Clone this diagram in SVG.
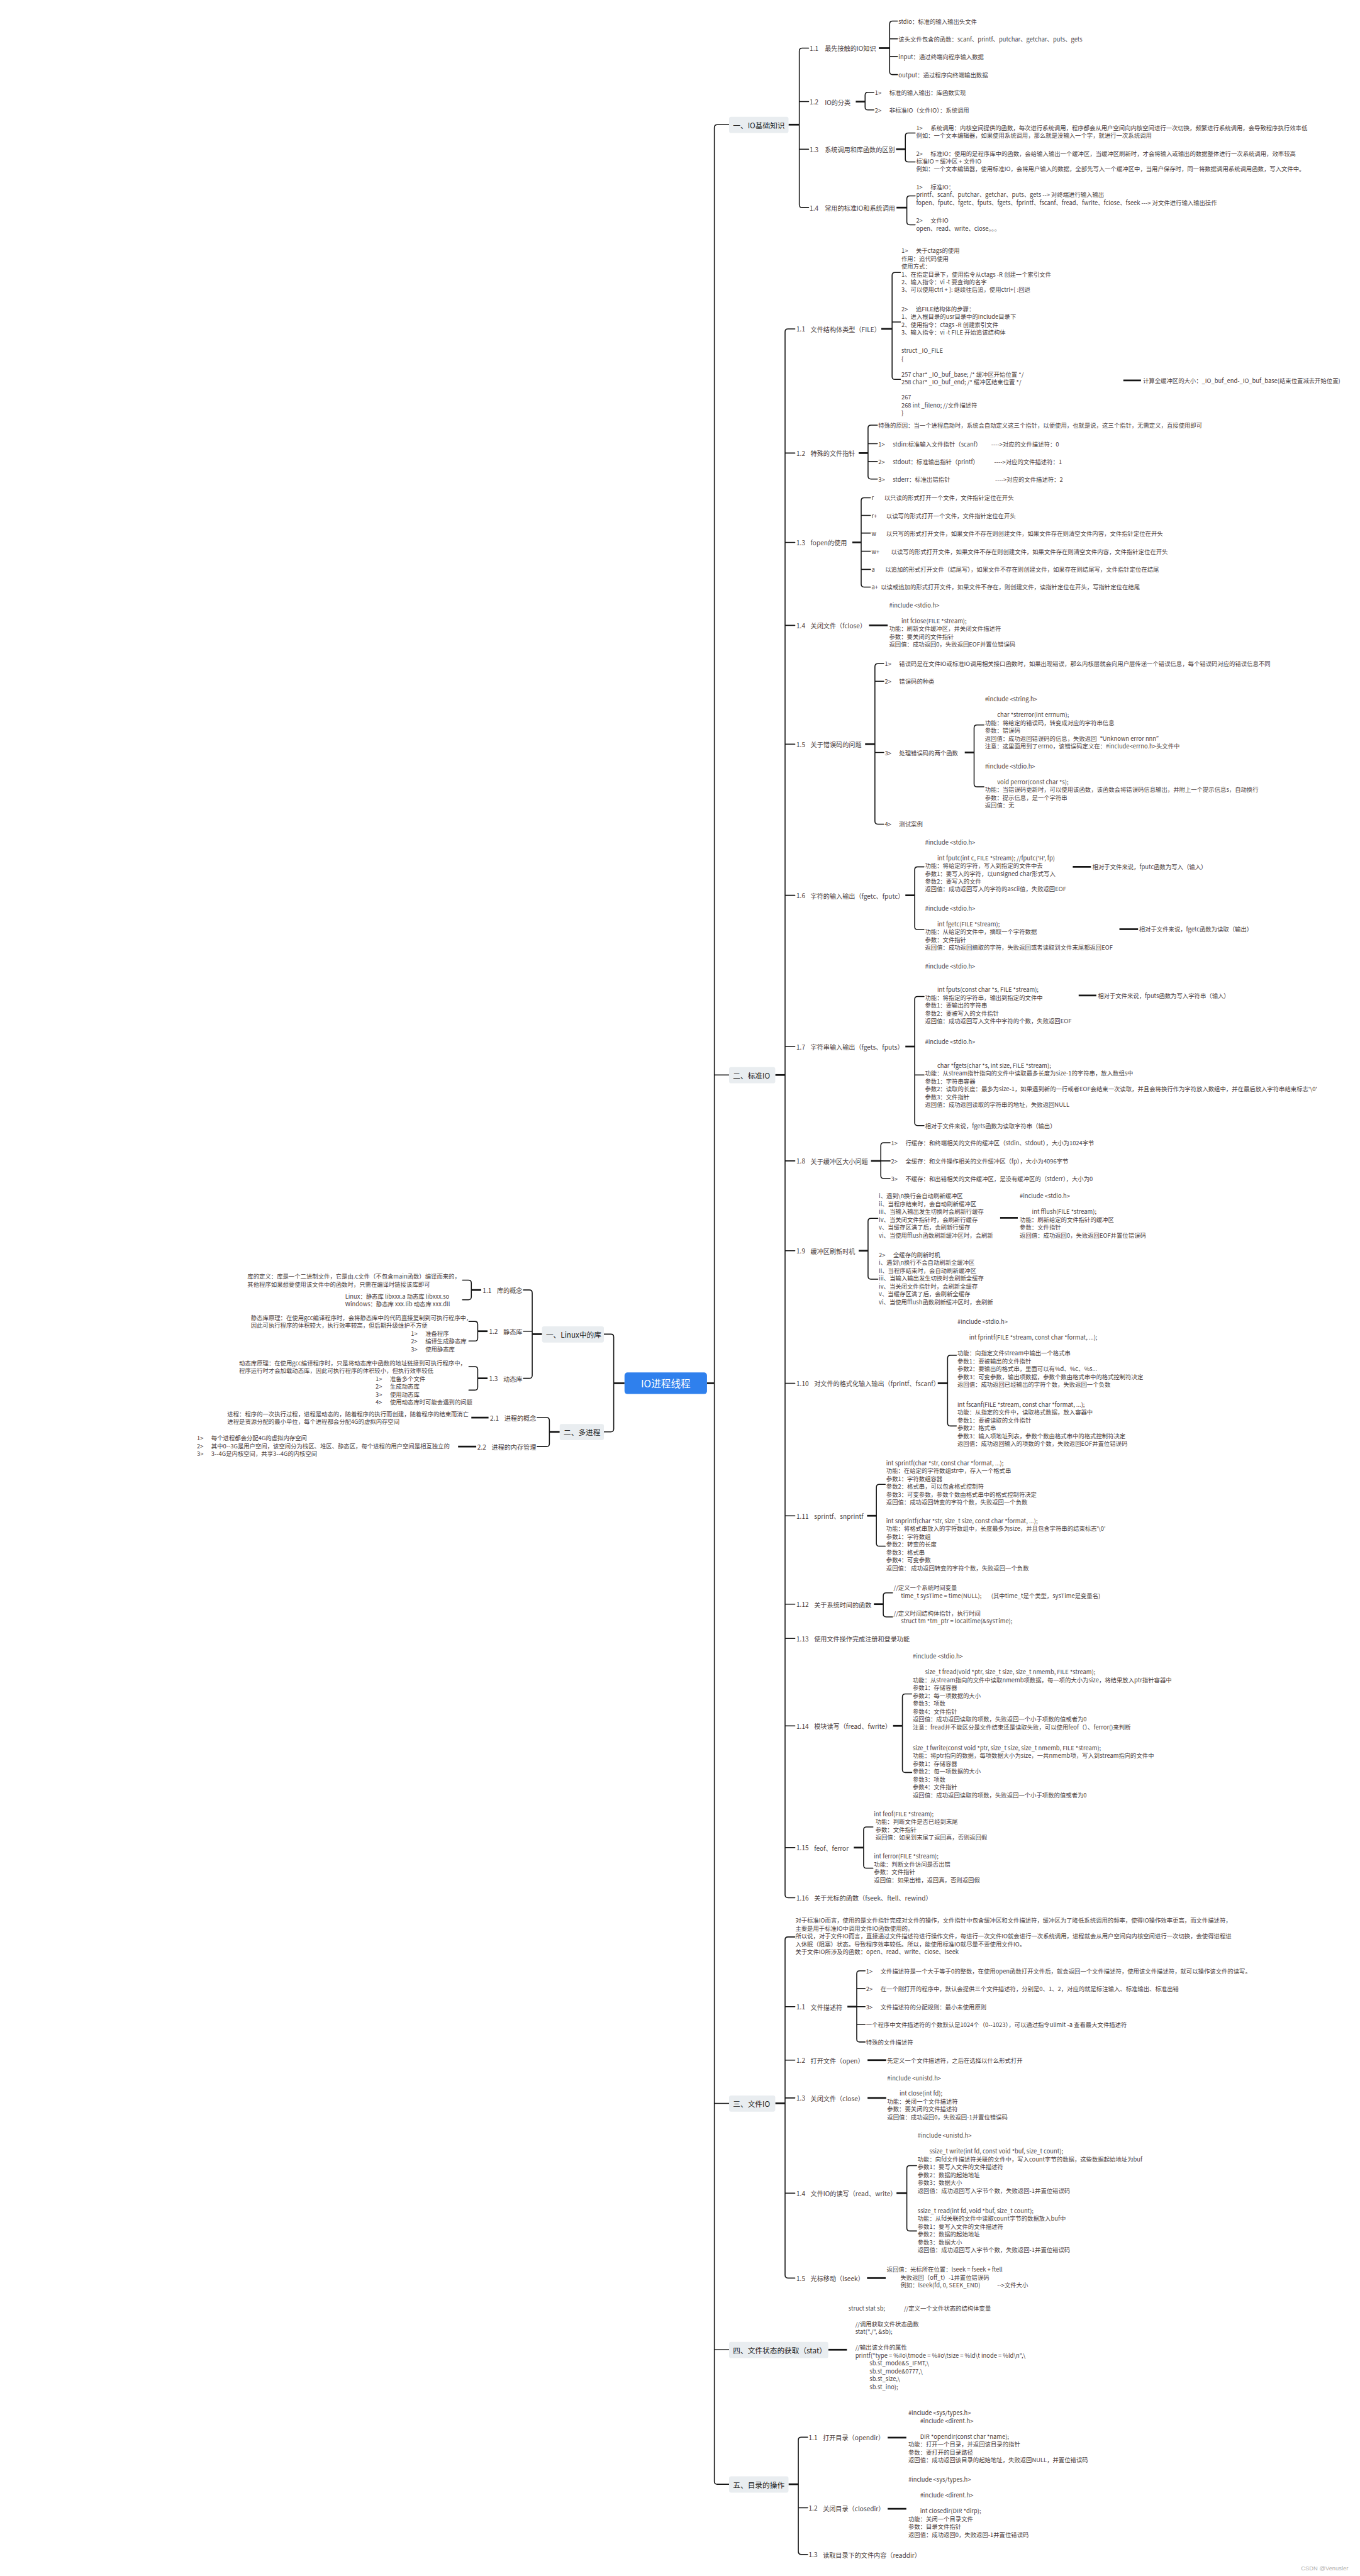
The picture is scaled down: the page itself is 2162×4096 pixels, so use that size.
<svg xmlns="http://www.w3.org/2000/svg" width="2162" height="4096" viewBox="0 0 2162 4096" xml:space="preserve">
<style>
.t{font-family:"Noto Sans CJK SC","Noto Sans",sans-serif;font-size:12px;fill:#4a3d3d;dominant-baseline:central}
.h{font-size:13px}
.b{font-size:15px;fill:#222}
.c{font-size:20px;fill:#fff;text-anchor:middle}
.e{text-anchor:end}
.ln{fill:none;stroke:#151515;stroke-width:2;stroke-linecap:round;stroke-linejoin:round}
.ps{fill:none;stroke:#151515;stroke-width:3.5}
.box{fill:#e9edf0}
.wm{font-family:"Liberation Sans",sans-serif;font-size:12px;fill:#b0b0b0}
</style>
<rect width="2162" height="4096" fill="#ffffff"/>
<g transform="scale(0.7805)">
<g id="connectors">
<path class="ln" d="M1485,254H1461Q1455,254 1455,260V5055Q1455,5061 1461,5061H1485M1455,2190H1487M1455,4285H1487M1455,4787H1485"/>
<path class="ps" d="M1440,2818H1455"/>
<path class="ps" d="M1272,2818H1250"/>
<path class="ln" d="M1230,2718H1244Q1250,2718 1250,2724V2911Q1250,2917 1244,2917H1230"/>
<path class="ps" d="M1104,2718H1084"/>
<path class="ln" d="M1066,2628H1078Q1084,2628 1084,2634V2802Q1084,2808 1078,2808H1066M1084,2712H1066"/>
<path class="ps" d="M980,2628H960"/>
<path class="ln" d="M942,2608H954Q960,2608 960,2614V2642Q960,2648 954,2648H942"/>
<path class="ps" d="M993,2712H973"/>
<path class="ln" d="M955,2692H967Q973,2692 973,2698V2726Q973,2732 967,2732H955"/>
<path class="ps" d="M993,2808H973"/>
<path class="ln" d="M955,2784H967Q973,2784 973,2790V2826Q973,2832 967,2832H955"/>
<path class="ps" d="M1140,2917H1119"/>
<path class="ln" d="M1094,2888H1113Q1119,2888 1119,2894V2941Q1119,2947 1113,2947H1094"/>
<path class="ps" d="M960,2888H995"/>
<path class="ps" d="M933,2947H970"/>
<path class="ps" d="M1606,254H1628"/>
<path class="ln" d="M1647,98H1634Q1628,98 1628,104V417Q1628,423 1634,423H1647M1628,207H1647M1628,304H1647"/>
<path class="ps" d="M1790,98H1812"/>
<path class="ln" d="M1828,43H1818Q1812,43 1812,49V146Q1812,152 1818,152H1828M1812,79H1828M1812,115H1828"/>
<path class="ps" d="M1743,207H1762"/>
<path class="ln" d="M1780,188H1768Q1762,188 1762,194V218Q1762,224 1768,224H1780"/>
<path class="ps" d="M1825,304H1844"/>
<path class="ln" d="M1864,271H1850Q1844,271 1844,277V324Q1844,330 1850,330H1864"/>
<path class="ps" d="M1826,423H1847"/>
<path class="ln" d="M1864,399H1853Q1847,399 1847,405V452Q1847,458 1853,458H1864"/>
<path class="ps" d="M1579,2190H1599"/>
<path class="ln" d="M1619,670H1605Q1599,670 1599,676V3860Q1599,3866 1605,3866H1619M1599,923H1619M1599,1105H1619M1599,1274H1619M1599,1516H1619M1599,1824H1619M1599,2132H1619M1599,2365H1619M1599,2548H1619M1599,2818H1619M1599,3088H1619M1599,3268H1619M1599,3338H1619M1599,3516H1619M1599,3764H1619"/>
<path class="ps" d="M1795,670H1817"/>
<path class="ln" d="M1834,555H1823Q1817,555 1817,561V767Q1817,773 1823,773H1834M1817,656H1834"/>
<path class="ps" d="M2288,775H2324"/>
<path class="ps" d="M1749,923H1768"/>
<path class="ln" d="M1787,866H1774Q1768,866 1768,872V970Q1768,976 1774,976H1787M1768,904H1787M1768,940H1787"/>
<path class="ps" d="M1736,1105H1754"/>
<path class="ln" d="M1773,1014H1760Q1754,1014 1754,1020V1190Q1754,1196 1760,1196H1773M1754,1050H1773M1754,1086H1773M1754,1123H1773M1754,1160H1773"/>
<path class="ps" d="M1770,1274H1808"/>
<path class="ps" d="M1762,1516H1782"/>
<path class="ln" d="M1800,1352H1788Q1782,1352 1782,1358V1673Q1782,1679 1788,1679H1800M1782,1388H1800M1782,1533H1800"/>
<path class="ps" d="M1965,1533H1984"/>
<path class="ln" d="M2004,1477H1990Q1984,1477 1984,1483V1597Q1984,1603 1990,1603H2004"/>
<path class="ps" d="M1844,1824H1863"/>
<path class="ln" d="M1882,1766H1869Q1863,1766 1863,1772V1888Q1863,1894 1869,1894H1882"/>
<path class="ps" d="M2185,1766H2222"/>
<path class="ps" d="M2280,1893H2318"/>
<path class="ps" d="M1844,2132H1863"/>
<path class="ln" d="M1882,2030H1869Q1863,2030 1863,2036V2287Q1863,2293 1869,2293H1882M1863,2190H1882"/>
<path class="ps" d="M2197,2028H2233"/>
<path class="ps" d="M1774,2365H1794"/>
<path class="ln" d="M1813,2328H1800Q1794,2328 1794,2334V2395Q1794,2401 1800,2401H1813M1794,2365H1813"/>
<path class="ps" d="M1749,2548H1768"/>
<path class="ln" d="M1788,2482H1774Q1768,2482 1768,2488V2600Q1768,2606 1774,2606H1788"/>
<path class="ps" d="M2037,2481H2073"/>
<path class="ps" d="M1910,2818H1930"/>
<path class="ln" d="M1948,2761H1936Q1930,2761 1930,2767V2899Q1930,2905 1936,2905H1948"/>
<path class="ps" d="M1766,3088H1785"/>
<path class="ln" d="M1803,3024H1791Q1785,3024 1785,3030V3144Q1785,3150 1791,3150H1803"/>
<path class="ps" d="M1780,3268H1799"/>
<path class="ln" d="M1818,3245H1805Q1799,3245 1799,3251V3288Q1799,3294 1805,3294H1818"/>
<path class="ps" d="M1819,3516H1838"/>
<path class="ln" d="M1857,3451H1844Q1838,3451 1838,3457V3605Q1838,3611 1844,3611H1857"/>
<path class="ps" d="M1739,3764H1759"/>
<path class="ln" d="M1778,3722H1765Q1759,3722 1759,3728V3800Q1759,3806 1765,3806H1778"/>
<path class="ps" d="M1579,4285H1599"/>
<path class="ln" d="M1619,3946H1605Q1599,3946 1599,3952V4635Q1599,4641 1605,4641H1619M1599,4088H1619M1599,4197H1619M1599,4274H1619M1599,4468H1619"/>
<path class="ps" d="M1726,4088H1745"/>
<path class="ln" d="M1762,4015H1751Q1745,4015 1745,4021V4154Q1745,4160 1751,4160H1762M1745,4051H1762M1745,4088H1762M1745,4124H1762"/>
<path class="ps" d="M1767,4197H1805"/>
<path class="ps" d="M1767,4274H1805"/>
<path class="ps" d="M1826,4468H1847"/>
<path class="ln" d="M1867,4412H1853Q1847,4412 1847,4418V4539Q1847,4545 1853,4545H1867"/>
<path class="ps" d="M1766,4641H1804"/>
<path class="ps" d="M1687,4787H1725"/>
<path class="ps" d="M1606,5061H1626"/>
<path class="ln" d="M1645,4965H1632Q1626,4965 1626,4971V5198Q1626,5204 1632,5204H1645M1626,5109H1645"/>
<path class="ps" d="M1808,4966H1846"/>
<path class="ps" d="M1808,5111H1846"/>
</g>

<g id="center"><rect x="1272" y="2796" width="168" height="44" rx="6" fill="#2f80ed"/><text class="t c" x="1356" y="2818">IO进程线程</text></g>

<g id="L1"><rect class="box" x="1104" y="2702" width="126" height="33" rx="4"/><text class="t b" x="1112" y="2718">一、Linux中的库</text>
<text class="t h e" x="1064" y="2628">1.1<tspan dx="11">库的概念</tspan></text>
<text class="t" x="504" y="2600">库的定义：库是一个二进制文件，它是由.c文件（不包含main函数）编译而来的，<tspan x="504" dy="16">其他程序如果想要使用该文件中的函数时，只需在编译时链接该库即可</tspan></text>
<text class="t" x="703" y="2640">Linux：静态库 libxxx.a    动态库 libxxx.so<tspan x="703" dy="16">Windows：静态库 xxx.lib    动态库 xxx.dll</tspan></text>
<text class="t h e" x="1064" y="2712">1.2<tspan dx="11">静态库</tspan></text>
<text class="t" x="511" y="2684">静态库原理：在使用gcc编译程序时，会将静态库中的代码直接复制到可执行程序中，<tspan x="511" dy="16">因此可执行程序的体积较大，执行效率较高，但后期升级维护不方便</tspan></text>
<text class="t" x="837" y="2716">1&gt;<tspan dx="16">准备程序</tspan><tspan x="837" dy="16">2&gt;</tspan><tspan dx="16">编译生成静态库</tspan><tspan x="837" dy="16">3&gt;</tspan><tspan dx="16">使用静态库</tspan></text>
<text class="t h e" x="1064" y="2808">1.3<tspan dx="11">动态库</tspan></text>
<text class="t" x="487" y="2776">动态库原理：在使用gcc编译程序时，只是将动态库中函数的地址链接到可执行程序中，<tspan x="487" dy="16">程序运行时才会加载动态库，因此可执行程序的体积较小，但执行效率较低</tspan></text>
<text class="t" x="765" y="2808">1&gt;<tspan dx="16">准备多个文件</tspan><tspan x="765" dy="16">2&gt;</tspan><tspan dx="16">生成动态库</tspan><tspan x="765" dy="16">3&gt;</tspan><tspan dx="16">使用动态库</tspan><tspan x="765" dy="16">4&gt;</tspan><tspan dx="16">使用动态库时可能会遇到的问题</tspan></text></g>

<g id="L2"><rect class="box" x="1140" y="2901" width="90" height="33" rx="4"/><text class="t b" x="1148" y="2917">二、多进程</text>
<text class="t h e" x="1092" y="2888">2.1<tspan dx="11">进程的概念</tspan></text>
<text class="t" x="463" y="2880">进程：程序的一次执行过程，进程是动态的，随着程序的执行而创建，随着程序的结束而消亡<tspan x="463" dy="16">进程是资源分配的最小单位，每个进程都会分配4G的虚拟内存空间</tspan></text>
<text class="t h e" x="1092" y="2947">2.2<tspan dx="11">进程的内存管理</tspan></text>
<text class="t" x="401" y="2929">1&gt;<tspan dx="16">每个进程都会分配4G的虚拟内存空间</tspan></text>
<text class="t" x="401" y="2945">2&gt;<tspan dx="16">其中0--3G是用户空间，该空间分为栈区、堆区、静态区，每个进程的用户空间是相互独立的</tspan></text>
<text class="t" x="401" y="2961">3&gt;<tspan dx="16">3--4G是内核空间，共享3--4G的内核空间</tspan></text></g>

<g id="n1"><rect class="box" x="1485" y="238" width="121" height="33" rx="4"/><text class="t b" x="1493" y="254">一、IO基础知识</text></g>
<g id="n1-1"><text class="t h" x="1649" y="98">1.1<tspan dx="13">最先接触的IO知识</tspan></text>
<text class="t" x="1830" y="43">stdio：标准的输入输出头文件</text>
<text class="t" x="1830" y="79">该头文件包含的函数：scanf、printf、putchar、getchar、puts、gets</text>
<text class="t" x="1830" y="115">input：通过终端向程序输入数据</text>
<text class="t" x="1830" y="152">output：通过程序向终端输出数据</text></g>
<g id="n1-2"><text class="t h" x="1649" y="207">1.2<tspan dx="13">IO的分类</tspan></text>
<text class="t" x="1782" y="188">1&gt;<tspan dx="16">标准的输入输出：库函数实现</tspan></text>
<text class="t" x="1782" y="224">2&gt;<tspan dx="16">非标准IO（文件IO）：系统调用</tspan></text></g>
<g id="n1-3"><text class="t h" x="1649" y="304">1.3<tspan dx="13">系统调用和库函数的区别</tspan></text>
<text class="t" x="1866" y="260">1&gt;<tspan dx="16">系统调用：内核空间提供的函数，每次进行系统调用，程序都会从用户空间向内核空间进行一次切换，频繁进行系统调用，会导致程序执行效率低</tspan></text>
<text class="t" x="1866" y="276">例如：一个文本编辑器，如果使用系统调用，那么就是没输入一个字，就进行一次系统调用</text>
<text class="t" x="1866" y="312">2&gt;<tspan dx="16">标准IO：使用的是程序库中的函数，会给输入输出一个缓冲区，当缓冲区刷新时，才会将输入或输出的数据整体进行一次系统调用，效率较高</tspan></text>
<text class="t" x="1866" y="328">标准IO = 缓冲区 + 文件IO</text>
<text class="t" x="1866" y="344">例如：一个文本编辑器，使用标准IO，会将用户输入的数据，全部先写入一个缓冲区中，当用户保存时，同一将数据调用系统调用函数，写入文件中。</text></g>
<g id="n1-4"><text class="t h" x="1649" y="423">1.4<tspan dx="13">常用的标准IO和系统调用</tspan></text>
<text class="t" x="1866" y="380">1&gt;<tspan dx="16">标准IO：</tspan></text>
<text class="t" x="1866" y="396">printf、scanf、putchar、getchar、puts、gets   --&gt; 对终端进行输入输出</text>
<text class="t" x="1866" y="412">fopen、fputc、fgetc、fputs、fgets、fprintf、fscanf、fread、fwrite、fclose、fseek    ---&gt;    对文件进行输入输出操作</text>
<text class="t" x="1866" y="449">2&gt;<tspan dx="16">文件IO</tspan></text>
<text class="t" x="1866" y="465">open、read、write、close。。。</text></g>

<g id="n2"><rect class="box" x="1485" y="2174" width="94" height="33" rx="4"/><text class="t b" x="1493" y="2190">二、标准IO</text></g>
<g id="n2-1"><text class="t h" x="1622" y="670">1.1<tspan dx="11">文件结构体类型（FILE）</tspan></text>
<text class="t" x="1836" y="510">1&gt;<tspan dx="16">关于ctags的使用</tspan><tspan x="1836" dy="16">作用：追代码使用</tspan><tspan x="1836" dy="16">使用方式：</tspan><tspan x="1836" dy="16">1、在指定目录下，使用指令从ctags -R 创建一个索引文件</tspan><tspan x="1836" dy="16">2、输入指令：vi -t  要查询的名字</tspan><tspan x="1836" dy="16">3、可以使用ctrl + ]: 继续往后追，使用ctrl+[ :回退</tspan></text>
<text class="t" x="1836" y="629">2&gt;<tspan dx="16">追FILE结构体的步骤：</tspan><tspan x="1836" dy="16">1、进入根目录的usr目录中的include目录下</tspan><tspan x="1836" dy="16">2、使用指令：ctags  -R   创建索引文件</tspan><tspan x="1836" dy="16">3、输入指令：vi -t FILE   开始追该结构体</tspan></text>
<text class="t" x="1836" y="714">struct _IO_FILE<tspan x="1836" dy="16">{</tspan><tspan x="1836" dy="32">257   char* _IO_buf_base;   /* 缓冲区开始位置 */</tspan><tspan x="1836" dy="16">258   char* _IO_buf_end;    /* 缓冲区结束位置 */</tspan><tspan x="1836" dy="31">267</tspan><tspan x="1836" dy="16">268   int _fileno;       //文件描述符</tspan><tspan x="1836" dy="16">}</tspan></text>
<text class="t" x="2328" y="775">计算全缓冲区的大小：_IO_buf_end-_IO_buf_base(结束位置减去开始位置)</text></g>
<g id="n2-2"><text class="t h" x="1622" y="923">1.2<tspan dx="11">特殊的文件指针</tspan></text>
<text class="t" x="1789" y="866">特殊的原因：当一个进程启动时，系统会自动定义这三个指针，以便使用，也就是说，这三个指针，无需定义，直接使用即可</text>
<text class="t" x="1789" y="904">1&gt;<tspan dx="16">stdin:标准输入文件指针（scanf）</tspan></text><text class="t" x="2019" y="904">----&gt;对应的文件描述符：0</text>
<text class="t" x="1789" y="940">2&gt;<tspan dx="16">stdout：标准输出指针（printf）</tspan></text><text class="t" x="2025" y="940">----&gt;对应的文件描述符：1</text>
<text class="t" x="1789" y="976">3&gt;<tspan dx="16">stderr：标准出错指针</tspan></text><text class="t" x="2027" y="976">----&gt;对应的文件描述符：2</text></g>
<g id="n2-3"><text class="t h" x="1622" y="1105">1.3<tspan dx="11">fopen的使用</tspan></text>
<text class="t" x="1775" y="1014">r</text><text class="t" x="1801" y="1014">以只读的形式打开一个文件，文件指针定位在开头</text>
<text class="t" x="1775" y="1050">r+</text><text class="t" x="1805" y="1050">以读写的形式打开一个文件，文件指针定位在开头</text>
<text class="t" x="1775" y="1086">w</text><text class="t" x="1805" y="1086">以只写的形式打开文件，如果文件不存在则创建文件，如果文件存在则清空文件内容，文件指针定位在开头</text>
<text class="t" x="1775" y="1123">w+</text><text class="t" x="1815" y="1123">以读写的形式打开文件，如果文件不存在则创建文件，如果文件存在则清空文件内容，文件指针定位在开头</text>
<text class="t" x="1775" y="1160">a</text><text class="t" x="1803" y="1160">以追加的形式打开文件（结尾写），如果文件不存在则创建文件，如果存在则结尾写，文件指针定位在结尾</text>
<text class="t" x="1775" y="1196">a+</text><text class="t" x="1794" y="1196">以读或追加的形式打开文件，如果文件不存在，则创建文件，读指针定位在开头，写指针定位在结尾</text></g>
<g id="n2-4"><text class="t h" x="1622" y="1274">1.4<tspan dx="11">关闭文件（fclose）</tspan></text>
<text class="t" x="1811" y="1232">#include &lt;stdio.h&gt;</text>
<text class="t" x="1836" y="1264">int fclose(FILE *stream);</text>
<text class="t" x="1811" y="1280">功能：刷新文件缓冲区，并关闭文件描述符<tspan x="1811" dy="16">参数：要关闭的文件指针</tspan><tspan x="1811" dy="16">返回值：成功返回0，失败返回EOF并置位错误码</tspan></text></g>
<g id="n2-5"><text class="t h" x="1622" y="1516">1.5<tspan dx="11">关于错误码的问题</tspan></text>
<text class="t" x="1802" y="1352">1&gt;<tspan dx="16">错误码是在文件IO或标准IO调用相关接口函数时，如果出现错误，那么内核层就会向用户层传递一个错误信息，每个错误码对应的错误信息不同</tspan></text>
<text class="t" x="1802" y="1388">2&gt;<tspan dx="16">错误码的种类</tspan></text>
<text class="t" x="1802" y="1533">3&gt;<tspan dx="16">处理错误码的两个函数</tspan></text>
<text class="t" x="1802" y="1679">4&gt;<tspan dx="16">测试案例</tspan></text>
<text class="t" x="2006" y="1424">#include &lt;string.h&gt;</text>
<text class="t" x="2031" y="1456">char *strerror(int errnum);</text>
<text class="t" x="2006" y="1472">功能：将给定的错误码，转变成对应的字符串信息<tspan x="2006" dy="16">参数：错误码</tspan><tspan x="2006" dy="16">返回值：成功返回错误码的信息，失败返回“Unknown error nnn”</tspan><tspan x="2006" dy="16">注意：这里面用到了errno，该错误码定义在：#include&lt;errno.h&gt;头文件中</tspan></text>
<text class="t" x="2006" y="1560">#include &lt;stdio.h&gt;</text>
<text class="t" x="2031" y="1592">void perror(const char *s);</text>
<text class="t" x="2006" y="1608">功能：当错误码更新时，可以使用该函数，该函数会将错误码信息输出，并附上一个提示信息s，自动换行<tspan x="2006" dy="16">参数：提示信息，是一个字符串</tspan><tspan x="2006" dy="16">返回值：无</tspan></text></g>
<g id="n2-6"><text class="t h" x="1622" y="1824">1.6<tspan dx="11">字符的输入输出（fgetc、fputc）</tspan></text>
<text class="t" x="1884" y="1715">#include &lt;stdio.h&gt;</text>
<text class="t" x="1909" y="1747">int fputc(int c, FILE *stream);   //fputc('H', fp)</text>
<text class="t" x="1884" y="1763">功能：将给定的字符，写入到指定的文件中去<tspan x="1884" dy="16">参数1：要写入的字符，以unsigned char形式写入</tspan><tspan x="1884" dy="16">参数2：要写入的文件</tspan><tspan x="1884" dy="16">返回值：成功返回写入的字符的ascii值，失败返回EOF</tspan></text>
<text class="t" x="2225" y="1766">相对于文件来说，fputc函数为写入（输入）</text>
<text class="t" x="1884" y="1850">#include &lt;stdio.h&gt;</text>
<text class="t" x="1909" y="1882">int fgetc(FILE *stream);</text>
<text class="t" x="1884" y="1898">功能：从给定的文件中，摘取一个字符数据<tspan x="1884" dy="16">参数：文件指针</tspan><tspan x="1884" dy="16">返回值：成功返回摘取的字符，失败返回或者读取到文件末尾都返回EOF</tspan></text>
<text class="t" x="2320" y="1893">相对于文件来说，fgetc函数为读取（输出）</text></g>
<g id="n2-7"><text class="t h" x="1622" y="2132">1.7<tspan dx="11">字符串输入输出（fgets、fputs）</tspan></text>
<text class="t" x="1884" y="1968">#include &lt;stdio.h&gt;</text>
<text class="t" x="1909" y="2016">int fputs(const char *s, FILE *stream);</text>
<text class="t" x="1884" y="2032">功能：将指定的字符串，输出到指定的文件中<tspan x="1884" dy="16">参数1：要输出的字符串</tspan><tspan x="1884" dy="16">参数2：要被写入的文件指针</tspan><tspan x="1884" dy="16">返回值：成功返回写入文件中字符的个数，失败返回EOF</tspan></text>
<text class="t" x="2236" y="2028">相对于文件来说，fputs函数为写入字符串（输入）</text>
<text class="t" x="1884" y="2122">#include &lt;stdio.h&gt;</text>
<text class="t" x="1909" y="2170">char *fgets(char *s, int size, FILE *stream);</text>
<text class="t" x="1884" y="2186">功能：从stream指针指向的文件中读取最多长度为size-1的字符串，放入数组s中<tspan x="1884" dy="16">参数1：字符串容器</tspan><tspan x="1884" dy="16">参数2：读取的长度：最多为size-1，如果遇到新的一行或者EOF会结束一次读取，并且会将换行作为字符放入数组中，并在最后放入字符串结束标志'\0'</tspan><tspan x="1884" dy="16">参数3：文件指针</tspan><tspan x="1884" dy="16">返回值：成功返回读取的字符串的地址，失败返回NULL</tspan></text>
<text class="t" x="1884" y="2293">相对于文件来说，fgets函数为读取字符串（输出）</text></g>
<g id="n2-8"><text class="t h" x="1622" y="2365">1.8<tspan dx="11">关于缓冲区大小问题</tspan></text>
<text class="t" x="1815" y="2328">1&gt;<tspan dx="16">行缓存：和终端相关的文件的缓冲区（stdin、stdout），大小为1024字节</tspan></text>
<text class="t" x="1815" y="2365">2&gt;<tspan dx="16">全缓存：和文件操作相关的文件缓冲区（fp），大小为4096字节</tspan></text>
<text class="t" x="1815" y="2401">3&gt;<tspan dx="16">不缓存：和出错相关的文件缓冲区，是没有缓冲区的（stderr），大小为0</tspan></text></g>
<g id="n2-9"><text class="t h" x="1622" y="2548">1.9<tspan dx="11">缓冲区刷新时机</tspan></text>
<text class="t" x="1790" y="2436">i、遇到\n换行会自动刷新缓冲区<tspan x="1790" dy="16">ii、当程序结束时，会自动刷新缓冲区</tspan><tspan x="1790" dy="16">iii、当输入输出发生切换时会刷新行缓存</tspan><tspan x="1790" dy="16">iv、当关闭文件指针时，会刷新行缓存</tspan><tspan x="1790" dy="16">v、当缓存区满了后，会刷新行缓存</tspan><tspan x="1790" dy="16">vi、当使用fflush函数刷新缓冲区时，会刷新</tspan></text>
<text class="t" x="2077" y="2436">#include &lt;stdio.h&gt;</text>
<text class="t" x="2102" y="2468">int fflush(FILE *stream);</text>
<text class="t" x="2077" y="2484">功能：刷新给定的文件指针的缓冲区<tspan x="2077" dy="16">参数：文件指针</tspan><tspan x="2077" dy="16">返回值：成功返回0，失败返回EOF并置位错误码</tspan></text>
<text class="t" x="1790" y="2556">2&gt;<tspan dx="16">全缓存的刷新时机</tspan><tspan x="1790" dy="16">i、遇到\n换行不会自动刷新全缓冲区</tspan><tspan x="1790" dy="16">ii、当程序结束时，会自动刷新缓冲区</tspan><tspan x="1790" dy="16">iii、当输入输出发生切换时会刷新全缓存</tspan><tspan x="1790" dy="16">iv、当关闭文件指针时，会刷新全缓存</tspan><tspan x="1790" dy="16">v、当缓存区满了后，会刷新全缓存</tspan><tspan x="1790" dy="16">vi、当使用fflush函数刷新缓冲区时，会刷新</tspan></text></g>
<g id="n2-10"><text class="t h" x="1622" y="2818">1.10<tspan dx="11">对文件的格式化输入输出（fprintf、fscanf）</tspan></text>
<text class="t" x="1950" y="2692">#include &lt;stdio.h&gt;</text>
<text class="t" x="1974" y="2724">int fprintf(FILE *stream, const char *format, ...);</text>
<text class="t" x="1950" y="2756">功能：向指定文件stream中输出一个格式串<tspan x="1950" dy="16">参数1：要被输出的文件指针</tspan><tspan x="1950" dy="16">参数2：要输出的格式串，里面可以有%d、%c、%s...</tspan><tspan x="1950" dy="16">参数3：可变参数，输出项数据，参数个数由格式串中的格式控制符决定</tspan><tspan x="1950" dy="16">返回值：成功返回已经输出的字符个数，失败返回一个负数</tspan></text>
<text class="t" x="1950" y="2861">int fscanf(FILE *stream, const char *format, ...);<tspan x="1950" dy="16">功能：从指定的文件中，读取格式数据，放入容器中</tspan><tspan x="1950" dy="16">参数1：要被读取的文件指针</tspan><tspan x="1950" dy="16">参数2：格式串</tspan><tspan x="1950" dy="16">参数3：输入项地址列表，参数个数由格式串中的格式控制符决定</tspan><tspan x="1950" dy="16">返回值：成功返回输入的项数的个数，失败返回EOF并置位错误码</tspan></text></g>
<g id="n2-11"><text class="t h" x="1622" y="3088">1.11<tspan dx="11">sprintf、snprintf</tspan></text>
<text class="t" x="1805" y="2980">int sprintf(char *str, const char *format, ...);<tspan x="1805" dy="16">功能：在给定的字符数组str中，存入一个格式串</tspan><tspan x="1805" dy="16">参数1：字符数组容器</tspan><tspan x="1805" dy="16">参数2：格式串，可以包含格式控制符</tspan><tspan x="1805" dy="16">参数3：可变参数，参数个数由格式串中的格式控制符决定</tspan><tspan x="1805" dy="16">返回值：成功返回转变的字符个数，失败返回一个负数</tspan></text>
<text class="t" x="1805" y="3098">int snprintf(char *str, size_t size, const char *format, ...);<tspan x="1805" dy="16">功能：将格式串放入的字符数组中，长度最多为size，并且包含字符串的结束标志'\0'</tspan><tspan x="1805" dy="16">参数1：字符数组</tspan><tspan x="1805" dy="16">参数2：转变的长度</tspan><tspan x="1805" dy="16">参数3：格式串</tspan><tspan x="1805" dy="16">参数4：可变参数</tspan><tspan x="1805" dy="16">返回值：   成功返回转变的字符个数，失败返回一个负数</tspan></text></g>
<g id="n2-12"><text class="t h" x="1622" y="3268">1.12<tspan dx="11">关于系统时间的函数</tspan></text>
<text class="t" x="1820" y="3234">//定义一个系统时间变量</text>
<text class="t" x="1835" y="3250">time_t sysTime = time(NULL);</text><text class="t" x="2019" y="3250">(其中time_t是个类型，sysTime是变量名)</text>
<text class="t" x="1820" y="3286">//定义时间结构体指针，执行时间</text>
<text class="t" x="1835" y="3302">struct tm *tm_ptr = localtime(&amp;sysTime);</text></g>
<g id="n2-13"><text class="t h" x="1622" y="3338">1.13<tspan dx="11">使用文件操作完成注册和登录功能</tspan></text></g>
<g id="n2-14"><text class="t h" x="1622" y="3516">1.14<tspan dx="11">模块读写（fread、fwrite）</tspan></text>
<text class="t" x="1859" y="3374">#include &lt;stdio.h&gt;</text>
<text class="t" x="1884" y="3406">size_t fread(void *ptr, size_t size, size_t nmemb, FILE *stream);</text>
<text class="t" x="1859" y="3422">功能：从stream指向的文件中读取nmemb项数据，每一项的大小为size，将结果放入ptr指针容器中<tspan x="1859" dy="16">参数1：存储容器</tspan><tspan x="1859" dy="16">参数2：每一项数据的大小</tspan><tspan x="1859" dy="16">参数3：项数</tspan><tspan x="1859" dy="16">参数4：文件指针</tspan><tspan x="1859" dy="16">返回值：成功返回读取的项数，失败返回一个小于项数的值或者为0</tspan><tspan x="1859" dy="16">注意：fread并不能区分是文件结束还是读取失败，可以使用feof（）、ferror()来判断</tspan></text>
<text class="t" x="1859" y="3560">size_t fwrite(const void *ptr, size_t size, size_t nmemb, FILE *stream);<tspan x="1859" dy="16">功能：将ptr指向的数据，每项数据大小为size，一共nmemb项，写入到stream指向的文件中</tspan><tspan x="1859" dy="16">参数1：存储容器</tspan><tspan x="1859" dy="16">参数2：每一项数据的大小</tspan><tspan x="1859" dy="16">参数3：项数</tspan><tspan x="1859" dy="16">参数4：文件指针</tspan><tspan x="1859" dy="16">返回值：成功返回读取的项数，失败返回一个小于项数的值或者为0</tspan></text></g>
<g id="n2-15"><text class="t h" x="1622" y="3764">1.15<tspan dx="11">feof、ferror</tspan></text>
<text class="t" x="1780" y="3695">int feof(FILE *stream);<tspan x="1783" dy="16">功能：判断文件是否已经到末尾</tspan><tspan x="1783" dy="16">参数：文件指针</tspan><tspan x="1783" dy="16">返回值：如果到末尾了返回真，否则返回假</tspan></text>
<text class="t" x="1780" y="3781">int ferror(FILE *stream);<tspan x="1780" dy="16">功能：判断文件访问是否出错</tspan><tspan x="1780" dy="16">参数：文件指针</tspan><tspan x="1780" dy="16">返回值：如果出错，返回真，否则返回假</tspan></text></g>
<g id="n2-16"><text class="t h" x="1622" y="3866">1.16<tspan dx="11">关于光标的函数（fseek、ftell、rewind）</tspan></text></g>

<g id="n3"><rect class="box" x="1485" y="4269" width="94" height="33" rx="4"/><text class="t b" x="1493" y="4285">三、文件IO</text></g>
<g id="n3-0"><text class="t" x="1620" y="3912">对于标准IO而言，使用的是文件指针完成对文件的操作，文件指针中包含缓冲区和文件描述符，缓冲区为了降低系统调用的频率，使得IO操作效率更高，而文件描述符，<tspan x="1620" dy="16">主要是用于标准IO中调用文件IO函数使用的。</tspan><tspan x="1620" dy="16">所以说，对于文件IO而言，直接通过文件描述符进行操作文件，每进行一次文件IO就会进行一次系统调用，进程就会从用户空间向内核空间进行一次切换，会使得进程进</tspan><tspan x="1620" dy="16">入休眠（阻塞）状态。导致程序效率较低。所以，能使用标准IO就尽量不要使用文件IO。</tspan><tspan x="1620" dy="16">关于文件IO所涉及的函数：open、read、write、close、lseek</tspan></text></g>
<g id="n3-1"><text class="t h" x="1622" y="4088">1.1<tspan dx="11">文件描述符</tspan></text>
<text class="t" x="1764" y="4015">1&gt;<tspan dx="16">文件描述符是一个大于等于0的整数，在使用open函数打开文件后，就会返回一个文件描述符，使用该文件描述符，就可以操作该文件的读写。</tspan></text>
<text class="t" x="1764" y="4051">2&gt;<tspan dx="16">在一个刚打开的程序中，默认会提供三个文件描述符，分别是0、1、2，对应的就是标注输入、标准输出、标准出错</tspan></text>
<text class="t" x="1764" y="4088">3&gt;<tspan dx="16">文件描述符的分配规则：最小未使用原则</tspan></text>
<text class="t" x="1764" y="4124">一个程序中文件描述符的个数默认是1024个（0--1023），可以通过指令ulimit -a 查看最大文件描述符</text>
<text class="t" x="1764" y="4160">特殊的文件描述符</text></g>
<g id="n3-2"><text class="t h" x="1622" y="4197">1.2<tspan dx="11">打开文件（open）</tspan></text>
<text class="t" x="1807" y="4197">先定义一个文件描述符，之后在选择以什么形式打开</text></g>
<g id="n3-3"><text class="t h" x="1622" y="4274">1.3<tspan dx="11">关闭文件（close）</tspan></text>
<text class="t" x="1807" y="4233">#include &lt;unistd.h&gt;</text>
<text class="t" x="1832" y="4264">int close(int fd);</text>
<text class="t" x="1807" y="4280">功能：关闭一个文件描述符<tspan x="1807" dy="16">参数：要关闭的文件描述符</tspan><tspan x="1807" dy="16">返回值：成功返回0，失败返回-1并置位错误码</tspan></text></g>
<g id="n3-4"><text class="t h" x="1622" y="4468">1.4<tspan dx="11">文件IO的读写（read、write）</tspan></text>
<text class="t" x="1869" y="4350">#include &lt;unistd.h&gt;</text>
<text class="t" x="1893" y="4382">ssize_t write(int fd, const void *buf, size_t count);</text>
<text class="t" x="1869" y="4398">功能：向fd文件描述符关联的文件中，写入count字节的数据，这些数据起始地址为buf<tspan x="1869" dy="16">参数1：要写入文件的文件描述符</tspan><tspan x="1869" dy="16">参数2：数据的起始地址</tspan><tspan x="1869" dy="16">参数3：数据大小</tspan><tspan x="1869" dy="16">返回值：成功返回写入字节个数，失败返回-1并置位错误码</tspan></text>
<text class="t" x="1869" y="4503">ssize_t read(int fd, void *buf, size_t count);<tspan x="1869" dy="16">功能：从fd关联的文件中读取count字节的数据放入buf中</tspan><tspan x="1869" dy="16">参数1：要写入文件的文件描述符</tspan><tspan x="1869" dy="16">参数2：数据的起始地址</tspan><tspan x="1869" dy="16">参数3：数据大小</tspan><tspan x="1869" dy="16">返回值：成功返回写入字节个数，失败返回-1并置位错误码</tspan></text></g>
<g id="n3-5"><text class="t h" x="1622" y="4641">1.5<tspan dx="11">光标移动（lseek）</tspan></text>
<text class="t" x="1806" y="4623">返回值：光标所在位置：lseek = fseek + ftell</text>
<text class="t" x="1834" y="4639">失败返回（off_t）-1并置位错误码</text>
<text class="t" x="1834" y="4655">例如：lseek(fd, 0, SEEK_END)</text><text class="t" x="2031" y="4655">--&gt;文件大小</text></g>

<g id="n4"><rect class="box" x="1485" y="4771" width="202" height="33" rx="4"/><text class="t b" x="1493" y="4787">四、文件状态的获取（stat）</text>
<text class="t" x="1728" y="4702">struct stat sb;</text><text class="t" x="1841" y="4702">//定义一个文件状态的结构体变量</text>
<text class="t" x="1742" y="4734">//调用获取文件状态函数<tspan x="1742" dy="16">stat("./", &amp;sb);</tspan><tspan x="1742" dy="32">//输出该文件的属性</tspan><tspan x="1742" dy="16">printf("type = %#o\tmode = %#o\tsize = %ld\t inode = %ld\n",\</tspan><tspan x="1771" dy="16">sb.st_mode&amp;S_IFMT,\</tspan><tspan x="1771" dy="16">sb.st_mode&amp;0777,\</tspan><tspan x="1771" dy="16">sb.st_size,\</tspan><tspan x="1771" dy="16">sb.st_ino);</tspan></text></g>

<g id="n5"><rect class="box" x="1485" y="5045" width="121" height="33" rx="4"/><text class="t b" x="1493" y="5061">五、目录的操作</text>
<text class="t h" x="1647" y="4965">1.1<tspan dx="11">打开目录（opendir）</tspan></text>
<text class="t" x="1850" y="4915">#include &lt;sys/types.h&gt;</text>
<text class="t" x="1874" y="4931">#include &lt;dirent.h&gt;<tspan x="1874" dy="32">DIR *opendir(const char *name);</tspan></text>
<text class="t" x="1850" y="4979">功能：打开一个目录，并返回该目录的指针<tspan x="1850" dy="16">参数：要打开的目录路径</tspan><tspan x="1850" dy="16">返回值：成功返回该目录的起始地址，失败返回NULL，并置位错误码</tspan></text>
<text class="t h" x="1647" y="5109">1.2<tspan dx="11">关闭目录（closedir）</tspan></text>
<text class="t" x="1850" y="5050">#include &lt;sys/types.h&gt;</text>
<text class="t" x="1874" y="5083">#include &lt;dirent.h&gt;<tspan x="1874" dy="32">int closedir(DIR *dirp);</tspan></text>
<text class="t" x="1850" y="5131">功能：关闭一个目录文件<tspan x="1850" dy="16">参数：目录文件指针</tspan><tspan x="1850" dy="16">返回值：成功返回0，失败返回-1并置位错误码</tspan></text>
<text class="t h" x="1647" y="5204">1.3<tspan dx="11">读取目录下的文件内容（readdir）</tspan></text></g>
<text class="wm" x="2650" y="5237">CSDN @Venusler</text>
</g>
</svg>
